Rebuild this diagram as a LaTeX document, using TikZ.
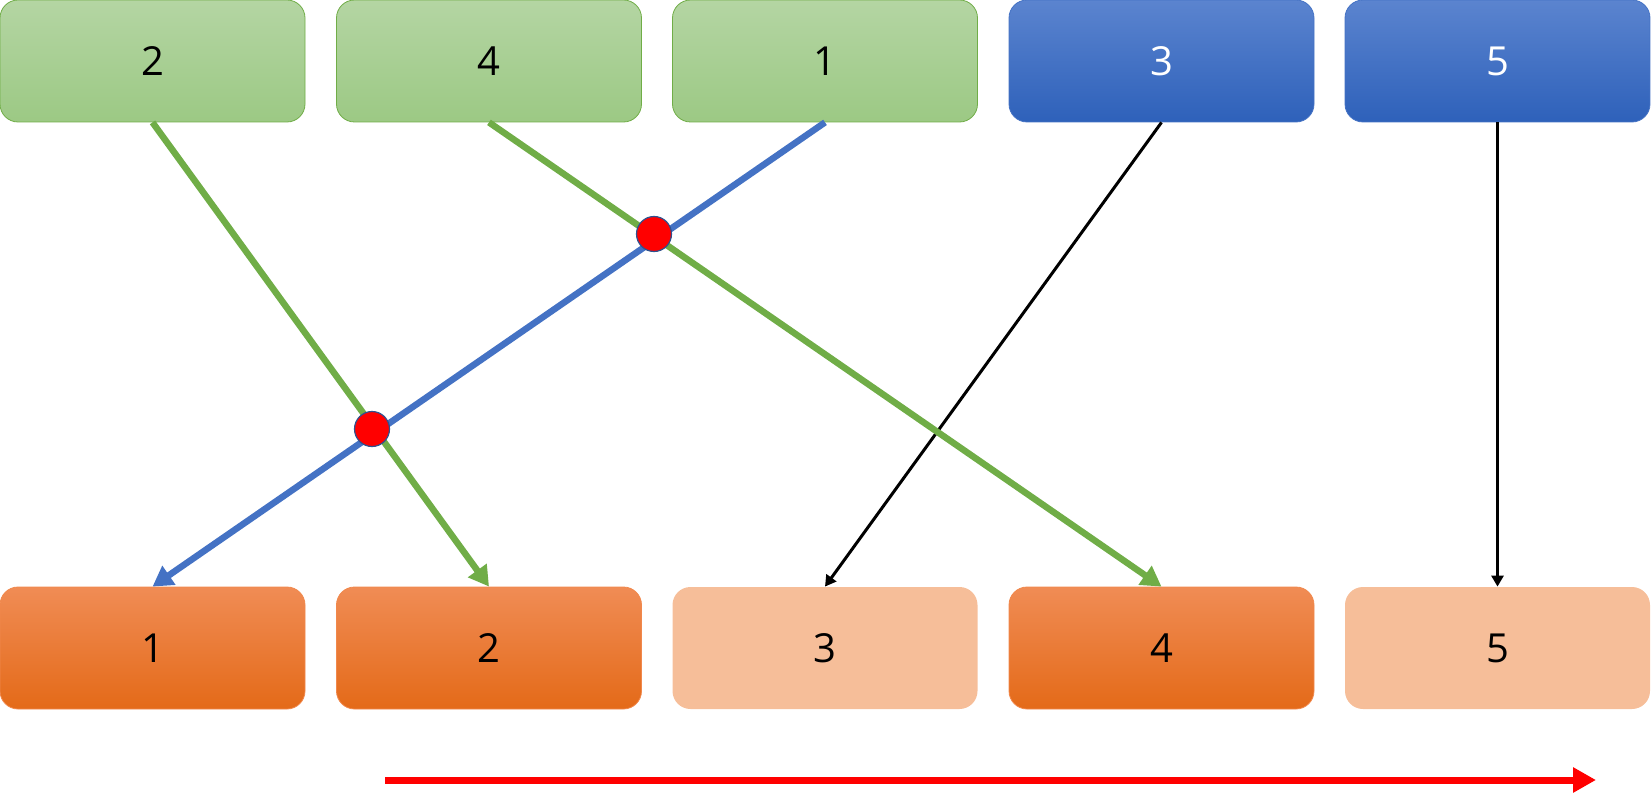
\documentclass[tikz,border=0pt]{standalone}
\usepackage{fontspec}
\setmainfont{Open Sans}
\usetikzlibrary{arrows.meta}
\definecolor{gtop}{HTML}{B4D5A3}
\definecolor{gbot}{HTML}{9CC984}
\definecolor{gline}{HTML}{70AD47}
\definecolor{btop}{HTML}{5B84CF}
\definecolor{bbot}{HTML}{2E61BA}
\definecolor{bline}{HTML}{4472C4}
\definecolor{otop}{HTML}{F08C55}
\definecolor{omid}{HTML}{F57A2A}
\definecolor{obot}{HTML}{E46A18}
\definecolor{lorange}{HTML}{F6BE99}
\definecolor{dotborder}{HTML}{2F528F}
\tikzset{
  box/.style={rectangle, rounded corners=18pt, minimum width=305pt, minimum height=122pt,
    inner sep=0pt, font=\fontsize{40}{48}\selectfont, line width=0.8pt},
  greenbox/.style={box, draw=gline, top color=gtop, bottom color=gbot},
  bluebox/.style={box, draw=bline, top color=btop, bottom color=bbot, text=white},
  orangebox/.style={box, draw=otop!80!omid, top color=otop, middle color=omid, bottom color=obot},
  lightbox/.style={box, fill=lorange},
  thickarrow/.style={line width=6.5pt, -{Triangle[length=20pt,width=22pt]}},
  thinarrow/.style={line width=3pt, -{Triangle[length=11pt,width=12pt]}},
  cross/.style={circle, fill=red, draw=dotborder, line width=1.2pt, minimum size=35pt, inner sep=0pt},
}
\begin{document}
\begin{tikzpicture}[x=1pt,y=-1pt]
\useasboundingbox (0,0) rectangle (1651,805);
% top row
\node[greenbox] (t1) at (152.5,61) {2};
\node[greenbox] (t2) at (489,61) {4};
\node[greenbox] (t3) at (825,61) {1};
\node[bluebox]  (t4) at (1161.5,61) {3};
\node[bluebox]  (t5) at (1497.5,61) {5};
% bottom row
\node[orangebox] (b1) at (152.5,648) {1};
\node[orangebox] (b2) at (489,648) {2};
\node[lightbox]  (b3) at (825,648) {3};
\node[orangebox] (b4) at (1161.5,648) {4};
\node[lightbox]  (b5) at (1497.5,648) {5};
% connectors
\draw[thinarrow] (t4.south) -- (b3.north);
\draw[thinarrow] (t5.south) -- (b5.north);
\draw[thickarrow, draw=gline, fill=gline] (t1.south) -- (b2.north);
\draw[thickarrow, draw=gline, fill=gline] (t2.south) -- (b4.north);
\draw[thickarrow, draw=bline, fill=bline] (t3.south) -- (b1.north);
% crossing dots
\node[cross] (c1) at (654,234) {};
\node[cross] (c2) at (372,429) {};
% red arrow
\coordinate (rs) at (385,780);
\coordinate (re) at (1596,780);
\draw[red, line width=7pt, -{Triangle[length=23pt,width=24pt]}] (rs) -- (re);
\end{tikzpicture}
\end{document}
